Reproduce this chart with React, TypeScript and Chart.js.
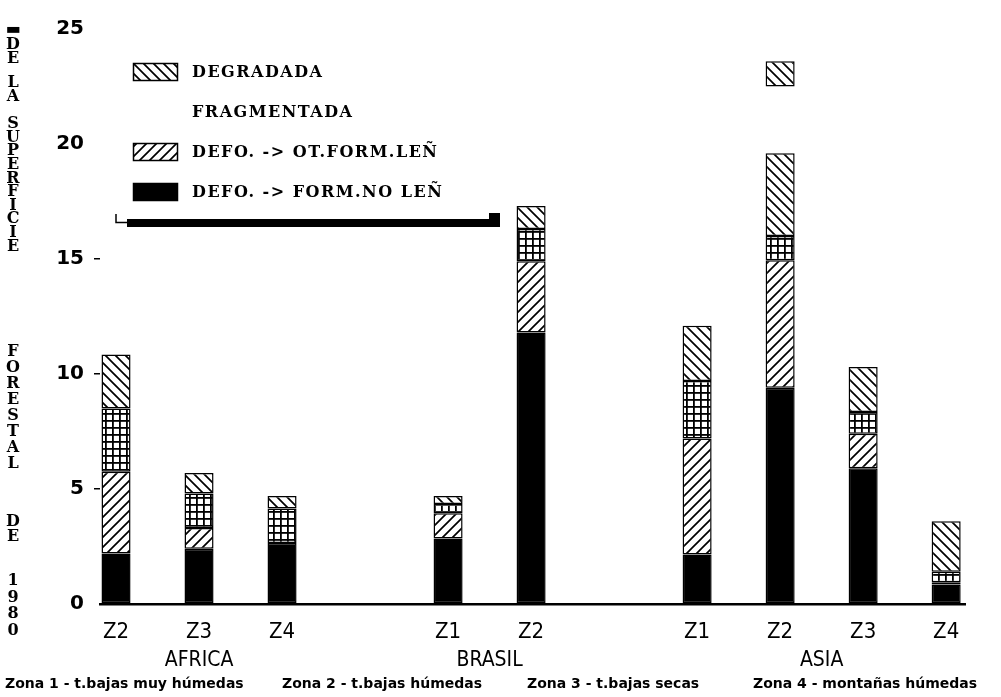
import { useEffect, useRef } from 'react';
import { Chart, registerables } from 'chart.js';
Chart.register(...registerables);

const categories = ['Z2', 'Z3', 'Z4', '', 'Z1', 'Z2', '', 'Z1', 'Z2', 'Z3', 'Z4'];
const regions = ['AFRICA', 'BRASIL', 'ASIA'];
const regionMembers = [[0, 1, 2], [4, 5], [7, 8, 9, 10]];
const seriesNames = ['DEFO. -> FORM.NO LEÑ', 'DEFO. -> OT.FORM.LEÑ', 'FRAGMENTADA', 'DEGRADADA'];
const defoNoLen = [2.2, 2.4, 2.65, null, 2.85, 11.8, null, 2.15, 9.4, 5.9, 0.85];
const defoOtLen = [3.55, 0.9, null, null, 1.1, 3.1, null, 5.05, 5.55, 1.5, 0.1];
const fragmentada = [2.75, 1.5, 1.5, null, 0.4, 1.4, null, 2.5, 1.05, 0.95, 0.45];
const degradada = [2.35, 0.9, 0.55, null, 0.35, 1.0, null, 2.4, 3.6, 1.95, 2.2];
const degradadaSuelta: any[] = [null, null, null, null, null, null, null, null, [22.5, 23.6], null, null];
const yTicks = [0, 5, 10, 15, 20, 25];
const yTickMarks = [5, 10, 15];
const yTitle = ['▬', 'DE', 'LA', 'SUPERFICIE', 'FORESTAL', 'DE', '1980'];
const footnote = ['Zona 1 - t.bajas muy húmedas', 'Zona 2 - t.bajas húmedas', 'Zona 3 - t.bajas secas', 'Zona 4 - montañas húmedas'];

function makeHatch(dir: number, p: number, lw: number) {
  const c = document.createElement('canvas');
  c.width = p; c.height = p;
  const g = c.getContext('2d')!;
  g.fillStyle = '#fff'; g.fillRect(0, 0, p, p);
  g.strokeStyle = '#000'; g.lineWidth = lw;
  g.beginPath();
  if (dir === 1) {
    g.moveTo(-1, p + 1); g.lineTo(p + 1, -1);
    g.moveTo(-2, 2); g.lineTo(2, -2);
    g.moveTo(p - 2, p + 2); g.lineTo(p + 2, p - 2);
  } else {
    g.moveTo(-1, -1); g.lineTo(p + 1, p + 1);
    g.moveTo(p - 2, -2); g.lineTo(p + 2, 2);
    g.moveTo(-2, p - 2); g.lineTo(2, p + 2);
  }
  g.stroke();
  return g.createPattern(c, 'repeat')!;
}

function makeGrid(p: number, lw: number) {
  const c = document.createElement('canvas');
  c.width = p; c.height = p;
  const g = c.getContext('2d')!;
  g.fillStyle = '#fff'; g.fillRect(0, 0, p, p);
  g.fillStyle = '#000';
  g.fillRect(0, 0, lw, p);
  g.fillRect(0, 0, p, lw);
  return g.createPattern(c, 'repeat')!;
}

export default function App() {
  const ref = useRef<HTMLCanvasElement>(null);
  useEffect(() => {
    const canvas = ref.current!;
    const pDeg = makeHatch(-1, 10, 1.7);
    const pOt = makeHatch(1, 10, 1.7);
    const pGrid = makeGrid(7, 1.8);
    const fills: any[] = ['#000', pOt, pGrid, pDeg];
    const seriesData = [defoNoLen, defoOtLen, fragmentada, degradada];
    const common = {
      borderColor: '#000', borderWidth: 1.5, borderSkipped: false as const,
      barPercentage: 0.35, categoryPercentage: 1,
    };

    const decorations = {
      id: 'decorations',
      afterDraw(chart: any) {
        const ctx = chart.ctx as CanvasRenderingContext2D;
        const xs = chart.scales.x;
        ctx.save();
        ctx.fillStyle = '#000';
        ctx.strokeStyle = '#000';
        // vertical stacked y title
        const layout = [[30, 0], [45, 14], [83, 14], [124, 13.6], [352, 16], [522, 15], [581, 16.5]];
        ctx.font = "bold 16px 'DejaVu Serif', serif";
        ctx.textAlign = 'center';
        ctx.textBaseline = 'middle';
        yTitle.forEach((w, i) => {
          const [y0, step] = layout[i];
          for (let k = 0; k < w.length; k++) ctx.fillText(w[k], 13, y0 + k * step);
        });
        // region labels
        ctx.font = "21px 'Liberation Sans Narrow', 'DejaVu Sans Condensed', 'DejaVu Sans', sans-serif";
        regions.forEach((r, i) => {
          const m = regionMembers[i];
          const cx = (xs.getPixelForValue(m[0]) + xs.getPixelForValue(m[m.length - 1])) / 2;
          ctx.fillText(r, cx, 661);
        });
        // footnote
        ctx.font = "bold 14px 'DejaVu Sans', sans-serif";
        ctx.textAlign = 'left';
        const starts = [5, 282, 527, 753];
        const widths = [257, 223, 200, 244];
        footnote.forEach((t, i) => ctx.fillText(t, starts[i], 684, widths[i]));
        // legend
        const order = [3, 2, 1, 0];
        const ys = [72, 112, 152, 192];
        ctx.font = "bold 16px 'DejaVu Serif', serif";
        (ctx as any).letterSpacing = '1.5px';
        order.forEach((d, i) => {
          const y = ys[i];
          if (d !== 2) {
            ctx.fillStyle = fills[d];
            ctx.fillRect(133, y - 9, 45, 18);
            ctx.lineWidth = 1.5;
            ctx.strokeStyle = '#000';
            ctx.strokeRect(133.5, y - 8.5, 44, 17);
          }
          ctx.fillStyle = '#000';
          ctx.fillText(seriesNames[d], 192, y + 1);
        });
        (ctx as any).letterSpacing = '0px';
        // bracket under legend
        ctx.fillRect(127, 219, 365, 8);
        ctx.fillRect(489, 213, 11, 14);
        ctx.lineWidth = 1.5;
        ctx.beginPath();
        ctx.moveTo(116, 214); ctx.lineTo(116, 222.5); ctx.lineTo(128, 222.5);
        ctx.stroke();
        ctx.restore();
      },
    };

    const chart = new Chart(canvas, {
      type: 'bar',
      data: {
        labels: categories,
        datasets: [
          ...seriesData.map((d, i) => ({
            ...common, label: seriesNames[i], data: d as any, backgroundColor: fills[i], stack: 'main',
          })),
          { ...common, label: seriesNames[3], data: degradadaSuelta, backgroundColor: pDeg, stack: 'suelta', grouped: false },
        ],
      },
      options: {
        animation: false,
        responsive: false,
        devicePixelRatio: 1,
        layout: { padding: { top: 29, right: 36, left: 0, bottom: 0 } },
        plugins: { legend: { display: false }, tooltip: { enabled: false } },
        scales: {
          x: {
            type: 'category',
            stacked: true,
            offset: false,
            grid: { display: false, drawTicks: false, tickLength: 0 },
            border: { display: true, color: '#000', width: 2.5 },
            ticks: {
              color: '#000', autoSkip: false, maxRotation: 0, padding: 15,
              font: { family: "'Liberation Sans Narrow', 'DejaVu Sans Condensed', 'DejaVu Sans', sans-serif", size: 22 },
            },
            afterBuildTicks: (s: any) => { s._startValue = -0.193; s._valueRange = 10.42; },
            afterFit: (s: any) => { s.height = 93; },
          },
          y: {
            stacked: true,
            min: 0, max: 25,
            afterBuildTicks: (s: any) => { s.ticks = yTicks.map((v) => ({ value: v })); },
            ticks: {
              color: '#000', padding: 10,
              font: { family: "'DejaVu Sans', sans-serif", size: 20, weight: 'bold' },
            },
            grid: {
              drawOnChartArea: false, tickLength: 6, lineWidth: 1.5,
              tickColor: (c: any) => (yTickMarks.includes(c.tick?.value) ? '#000' : 'rgba(0,0,0,0)'),
            },
            border: { display: false },
            afterFit: (s: any) => { s.width = 100; },
          },
        },
      },
      plugins: [decorations],
    });
    return () => chart.destroy();
  }, []);
  return (
    <div style={{ position: 'fixed', left: 0, top: 0, width: 1001, height: 697, background: '#fff' }}>
      <canvas ref={ref} width={1001} height={697} style={{ width: 1001, height: 697, display: 'block' }} />
    </div>
  );
}
